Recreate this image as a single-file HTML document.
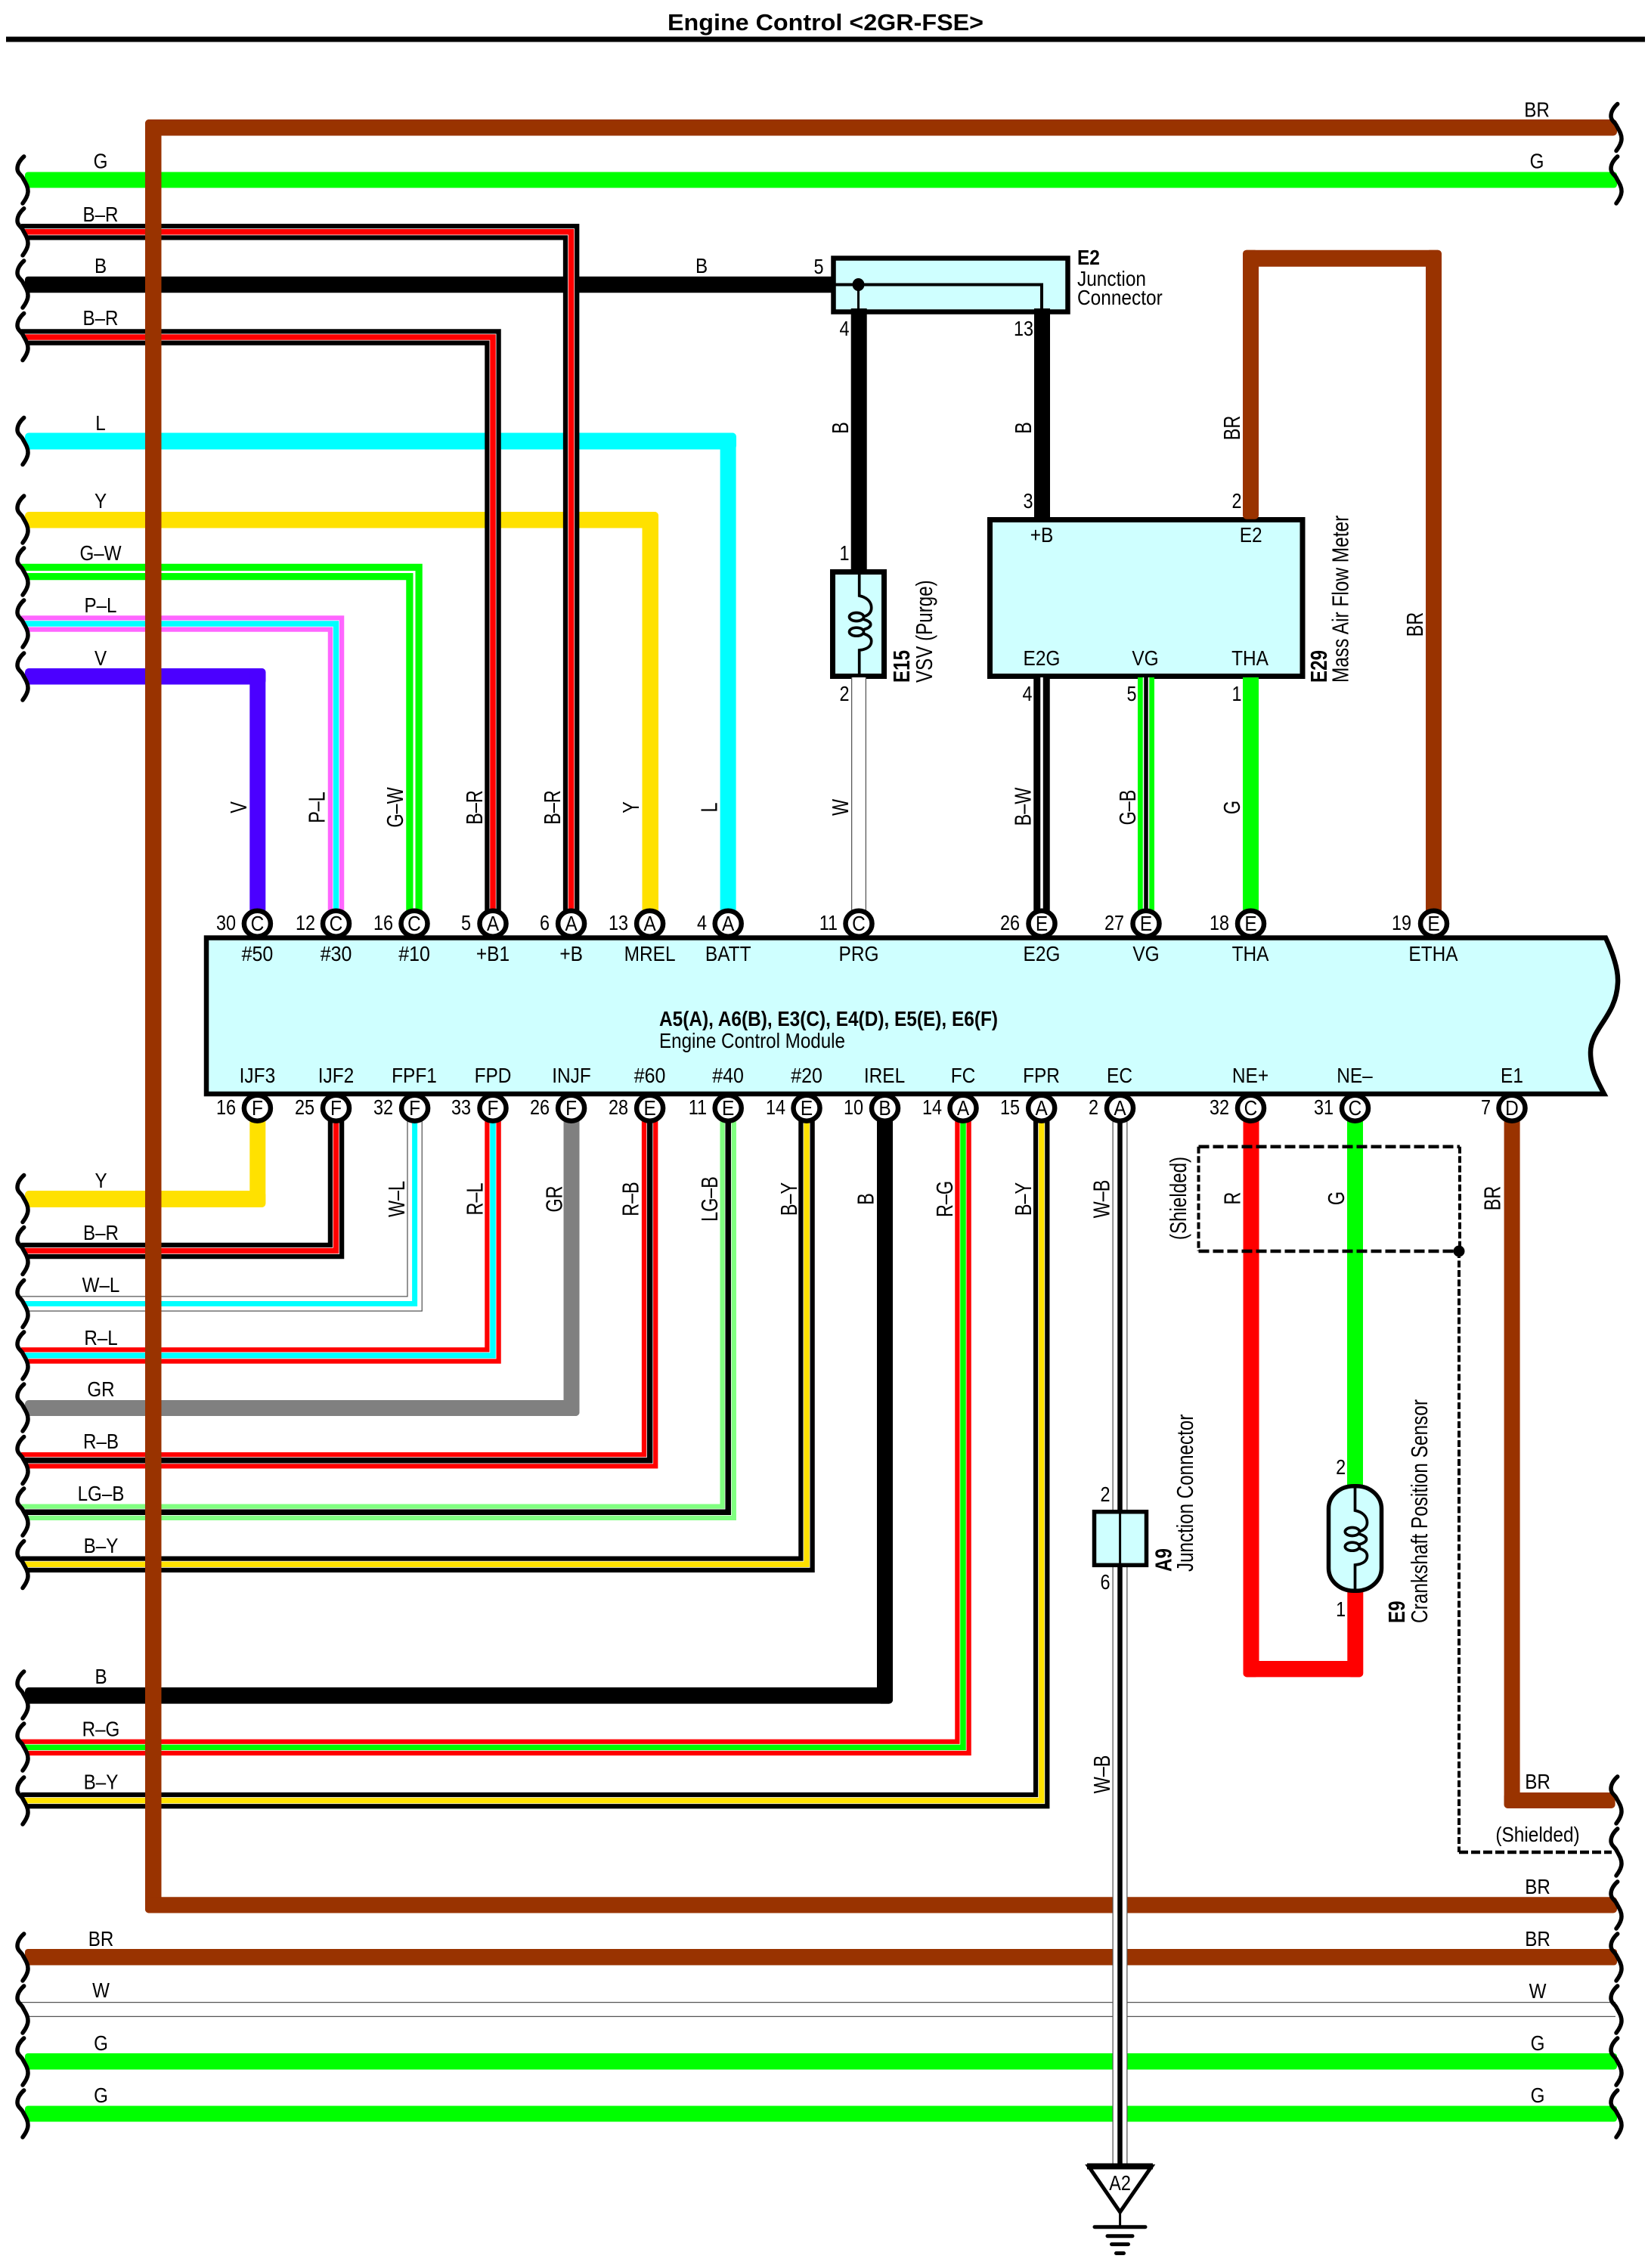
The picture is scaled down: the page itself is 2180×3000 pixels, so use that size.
<!DOCTYPE html>
<html><head><meta charset="utf-8"><title>Engine Control 2GR-FSE</title>
<style>
html,body{margin:0;padding:0;background:#fff}
svg{display:block}
text{font-family:"Liberation Sans",Arial,sans-serif;font-size:26px;fill:#000;stroke:none}
.m{text-anchor:middle}.e{text-anchor:end}.b{font-weight:bold}
.o{stroke-width:21.5}.i{stroke-width:9}.c{stroke-width:7.5}
.K{stroke:#000}.W{stroke:#fff}.R{stroke:#f00}.G{stroke:#0f0}.C{stroke:#0ff}.P{stroke:#f6f}.Y{stroke:#ffe100}.L{stroke:#80ff80}.A{stroke:#555}
.bx{fill:#cfffff;stroke:#000}
.sq{stroke:#000;stroke-width:5.5;stroke-linecap:round}
.d{stroke:#000;fill:none}
</style></head><body>
<svg xmlns="http://www.w3.org/2000/svg" width="2180" height="3000" viewBox="0 0 2180 3000" fill="none">
<defs>
<path id="s" d="M1.7 -31C-3 -27 -7 -21 -7 -15C-7 -9 -2 -7 0 -3C3 3 7 8 7 15C7 21 3 27 0 31" class="sq"/>
<g id="S"><path d="M-16 -34H1.7V-31C-3 -27 -7 -21 -7 -15C-7 -9 -2 -7 0 -3C3 3 7 8 7 15C7 21 3 27 0 31V34H-16Z" fill="#fff"/><use href="#s"/></g>
<g id="coil" stroke="#000" stroke-width="3.7" fill="none">
<path d="M0 0V31C10 33 16 39 16 47C16 53 12 57 5 59M5 62C12 64 15 66 15 69C15 72 12 74 5 76M5 81C12 83 16 86 16 91C16 98 10 102 0 103V138"/>
<ellipse cx="-3.7" cy="59" rx="9.5" ry="5.5"/><ellipse cx="-3.7" cy="78.7" rx="9.5" ry="5.5"/>
</g>
<path id="a1" d="M28 306.8H755.6V1222"/>
<path id="a2" d="M28 446H652V1222"/>
<path id="a3" d="M28 756.5H548V1222"/>
<path id="a4" d="M28 825H444.5V1222"/>
<path id="a5" d="M1136 896V1222"/>
<path id="a6" d="M1378 896V1222"/>
<path id="a7" d="M1516 896V1222"/>
<path id="b1" d="M28 1654.5H444.5V1465"/>
<path id="b2" d="M28 1724.5H548.6V1465"/>
<path id="b3" d="M28 1793H652V1465"/>
<path id="b4" d="M28 1931.7H859.6V1465"/>
<path id="b5" d="M28 2000.3H963.2V1465"/>
<path id="b6" d="M28 2069.3H1067V1465"/>
<path id="b7" d="M28 2311.4H1274V1465"/>
<path id="b8" d="M28 2381.6H1377.7V1465"/>
<path id="b9" d="M1481.5 1465V2866"/>
<path id="w0" d="M28 2658H2137"/>
</defs>

<!-- title -->
<text class="b m" x="1092" y="40" style="font-size:31px" textLength="418" lengthAdjust="spacingAndGlyphs">Engine Control &lt;2GR-FSE&gt;</text>
<rect x="8" y="48.5" width="2168" height="7" fill="#000"/>

<!-- boxes under wires -->
<rect x="1102.5" y="341.5" width="310" height="71" class="bx" stroke-width="6.5"/>
<rect x="1101.5" y="756.5" width="68" height="138" class="bx" stroke-width="7"/>
<rect x="1309.5" y="687.5" width="413.5" height="207" class="bx" stroke-width="7"/>

<!-- left top solid wires -->
<g>
<rect x="33" y="227.5" width="2106" height="21" rx="4" fill="#0f0"/>
<rect x="33" y="365.7" width="1070" height="21.5" rx="4" fill="#000"/>
<rect x="33" y="572.5" width="941" height="22" rx="5" fill="#0ff"/><rect x="952.6" y="572.5" width="21" height="650" rx="5" fill="#0ff"/>
<rect x="33" y="677" width="838" height="21.5" rx="5" fill="#ffe100"/><rect x="849.5" y="677" width="21.5" height="545" rx="5" fill="#ffe100"/>
<rect x="33" y="884" width="318.5" height="21.5" rx="5" fill="#4b00ff"/><rect x="330.3" y="884" width="21" height="338" rx="5" fill="#4b00ff"/>
</g>
<!-- top striped wires -->
<use href="#a1" class="K o"/><use href="#a1" class="W i"/><use href="#a1" class="R c"/>
<use href="#a2" class="K o"/><use href="#a2" class="W i"/><use href="#a2" class="R c"/>
<use href="#a3" class="G o"/><use href="#a3" class="W" stroke-width="3"/>
<use href="#a4" class="P o"/><use href="#a4" class="W i"/><use href="#a4" class="C c"/>

<!-- E2 wires -->
<rect x="1125.7" y="408" width="21" height="348" fill="#000"/>
<rect x="1368" y="408" width="21" height="280" fill="#000"/>
<path d="M1100 376.5H1378V414" stroke="#000" stroke-width="4"/>
<path d="M1135.5 376V414" stroke="#000" stroke-width="3"/>
<ellipse cx="1135.5" cy="376.5" rx="8" ry="8.5" fill="#000"/>
<use href="#coil" x="1136.7" y="757"/>

<!-- BR loop, THA -->
<rect x="1644" y="330.7" width="263" height="22" rx="5" fill="#930"/>
<rect x="1644" y="330.7" width="21" height="356" rx="5" fill="#930"/>
<rect x="1886" y="330.7" width="21" height="892" rx="5" fill="#930"/>
<rect x="1644" y="896" width="21" height="326" fill="#0f0"/>
<use href="#a5" class="A" stroke-width="20"/><use href="#a5" class="W" stroke-width="17.5"/>
<use href="#a6" class="K o"/><use href="#a6" class="W" stroke-width="3.5"/>
<use href="#a7" class="G" stroke-width="22"/><use href="#a7" class="W" stroke-width="8.5"/><use href="#a7" class="K" stroke-width="5.5"/>

<!-- bottom wires -->
<rect x="330.3" y="1465" width="21" height="132" rx="5" fill="#ffe100"/><rect x="33" y="1575" width="318.3" height="22" rx="5" fill="#ffe100"/>
<use href="#b1" class="K o"/><use href="#b1" class="W i"/><use href="#b1" class="R c"/>
<use href="#b2" class="A" stroke-width="20.5"/><use href="#b2" class="W" stroke-width="18"/><use href="#b2" class="C" stroke-width="7"/>
<use href="#b3" class="R o"/><use href="#b3" class="W i"/><use href="#b3" class="C c"/>
<rect x="745.5" y="1465" width="21" height="408" rx="5" fill="#808080"/><rect x="33" y="1852" width="733.5" height="21" rx="5" fill="#808080"/>
<use href="#b4" class="R o"/><use href="#b4" class="W i"/><use href="#b4" class="K c"/>
<use href="#b5" class="L o"/><use href="#b5" class="W i"/><use href="#b5" class="K c"/>
<use href="#b6" class="K o"/><use href="#b6" class="W i"/><use href="#b6" class="Y c"/>
<rect x="1160" y="1465" width="21" height="788.6" rx="5" fill="#000"/><rect x="33" y="2232" width="1148" height="21.6" rx="5" fill="#000"/>
<use href="#b7" class="R o"/><use href="#b7" class="W i"/><use href="#b7" class="G c"/>
<use href="#b8" class="K o"/><use href="#b8" class="W i"/><use href="#b8" class="Y c"/>

<!-- main brown ground loop -->
<rect x="192" y="158" width="1947" height="21.5" rx="5" fill="#930"/>
<rect x="192" y="158" width="21.5" height="2372.5" rx="5" fill="#930"/>
<rect x="192" y="2509.3" width="1947" height="21.2" rx="5" fill="#930"/>
<!-- lower buses -->
<rect x="33" y="2578" width="2106" height="21.5" rx="4" fill="#930"/>
<use href="#w0" class="A" stroke-width="20"/><use href="#w0" class="W" stroke-width="17.5"/>
<rect x="33" y="2716" width="2106" height="21.5" rx="4" fill="#0f0"/>
<rect x="33" y="2785.5" width="2106" height="21" rx="4" fill="#0f0"/>

<!-- red/green/BR right -->
<rect x="1644.5" y="1465" width="21" height="753.4" rx="5" fill="#f00"/>
<rect x="1644.5" y="2197" width="158.5" height="21.4" rx="5" fill="#f00"/>
<rect x="1782.3" y="2100" width="21" height="118.4" rx="5" fill="#f00"/>
<rect x="1782" y="1465" width="21" height="502" fill="#0f0"/>
<rect x="1989.6" y="1465" width="21" height="927" rx="5" fill="#930"/>
<rect x="1989.6" y="2371" width="147" height="21" rx="5" fill="#930"/>

<!-- W-B wire -->
<use href="#b9" class="A" stroke-width="20"/><use href="#b9" class="W" stroke-width="17.5"/><use href="#b9" class="K" stroke-width="6.5"/>

<!-- A9 -->
<rect x="1447.5" y="1999.7" width="69" height="70.6" class="bx" stroke-width="5.5"/>
<path d="M1481.6 2000V2070" stroke="#000" stroke-width="3"/>
<!-- E9 -->
<rect x="1757.5" y="1965.7" width="70" height="138.5" rx="33" ry="30" class="bx" stroke-width="5.5"/>
<use href="#coil" x="1792.5" y="1967"/>
<!-- shield -->
<path class="d" stroke-width="4.5" stroke-dasharray="14 5" d="M1585.5 1516.7H1931M1585.5 1655H1931"/>
<path class="d" stroke-width="4" stroke-dasharray="9 3.5" d="M1585.5 1516.7V1655M1931 1516.7V1655M1930 1655V2450"/>
<path class="d" stroke-width="4.5" stroke-dasharray="12 4" d="M1930 2450H2132"/>
<ellipse cx="1930" cy="1655" rx="7.5" ry="7.5" fill="#000"/>

<!-- ground -->
<path d="M1440 2865.5H1523.5L1481.6 2926Z" fill="#fff" stroke="#000" stroke-width="5"/>
<path d="M1438 2865.5H1525" stroke="#000" stroke-width="8"/>
<path d="M1481.6 2928V2945" stroke="#000" stroke-width="3"/>
<g stroke="#000" stroke-width="5" stroke-linecap="round">
<path d="M1448 2945.7H1515M1465 2957.7H1498M1470.5 2968.6H1492.5M1476.5 2980.5H1486.5"/>
</g>

<!-- squiggles left -->
<g>
<use href="#S" x="30" y="238"/><use href="#S" x="30" y="306.8"/><use href="#S" x="30" y="376"/><use href="#S" x="30" y="445.5"/>
<use href="#S" x="30" y="583.5"/><use href="#S" x="30" y="687"/><use href="#S" x="30" y="756"/><use href="#S" x="30" y="825"/><use href="#S" x="30" y="895"/>
<use href="#S" x="30" y="1585.5"/><use href="#S" x="30" y="1654.5"/><use href="#S" x="30" y="1724.5"/><use href="#S" x="30" y="1793"/><use href="#S" x="30" y="1862"/><use href="#S" x="30" y="1931.5"/><use href="#S" x="30" y="2000"/><use href="#S" x="30" y="2069.5"/>
<use href="#S" x="30" y="2242"/><use href="#S" x="30" y="2311"/><use href="#S" x="30" y="2382"/>
<use href="#S" x="30" y="2589"/><use href="#S" x="30" y="2658"/><use href="#S" x="30" y="2727"/><use href="#S" x="30" y="2796"/>
<use href="#s" x="2138" y="168.5"/><use href="#s" x="2138" y="238"/><use href="#s" x="2138" y="2381"/><use href="#s" x="2138" y="2450"/><use href="#s" x="2138" y="2520"/><use href="#s" x="2138" y="2589"/><use href="#s" x="2138" y="2658"/><use href="#s" x="2138" y="2727"/><use href="#s" x="2138" y="2796"/>
</g>

<!-- ECM -->
<path d="M273 1240.5H2124C2134 1262 2141 1284 2140 1300C2138 1345 2104 1360 2104 1392C2104 1415 2113 1430 2122 1447H273Z" class="bx" stroke-width="6.5"/>

<!-- pins -->
<g fill="#fff" stroke="#000" stroke-width="6.5">
<ellipse cx="340.4" cy="1221.7" rx="17.5" ry="17"/><ellipse cx="444.5" cy="1221.7" rx="17.5" ry="17"/><ellipse cx="548" cy="1221.7" rx="17.5" ry="17"/><ellipse cx="652" cy="1221.7" rx="17.5" ry="17"/><ellipse cx="755.6" cy="1221.7" rx="17.5" ry="17"/><ellipse cx="859.6" cy="1221.7" rx="17.5" ry="17"/><ellipse cx="963.2" cy="1221.7" rx="17.5" ry="17"/><ellipse cx="1136" cy="1221.7" rx="17.5" ry="17"/><ellipse cx="1378" cy="1221.7" rx="17.5" ry="17"/><ellipse cx="1516" cy="1221.7" rx="17.5" ry="17"/><ellipse cx="1654.5" cy="1221.7" rx="17.5" ry="17"/><ellipse cx="1896.5" cy="1221.7" rx="17.5" ry="17"/>
<ellipse cx="340.4" cy="1465.7" rx="17.5" ry="17"/><ellipse cx="444.5" cy="1465.7" rx="17.5" ry="17"/><ellipse cx="548.6" cy="1465.7" rx="17.5" ry="17"/><ellipse cx="652" cy="1465.7" rx="17.5" ry="17"/><ellipse cx="755.6" cy="1465.7" rx="17.5" ry="17"/><ellipse cx="859.6" cy="1465.7" rx="17.5" ry="17"/><ellipse cx="963.2" cy="1465.7" rx="17.5" ry="17"/><ellipse cx="1067" cy="1465.7" rx="17.5" ry="17"/><ellipse cx="1170.5" cy="1465.7" rx="17.5" ry="17"/><ellipse cx="1274" cy="1465.7" rx="17.5" ry="17"/><ellipse cx="1377.7" cy="1465.7" rx="17.5" ry="17"/><ellipse cx="1481.5" cy="1465.7" rx="17.5" ry="17"/><ellipse cx="1654.5" cy="1465.7" rx="17.5" ry="17"/><ellipse cx="1792.5" cy="1465.7" rx="17.5" ry="17"/><ellipse cx="2000" cy="1465.7" rx="17.5" ry="17"/>
</g>

<!-- pin letters -->
<g class="m">
<text class="m" transform="matrix(.94 0 0 1.08 340.4 1231)">C</text><text class="m" transform="matrix(.94 0 0 1.08 444.5 1231)">C</text><text class="m" transform="matrix(.94 0 0 1.08 548 1231)">C</text><text class="m" transform="matrix(.94 0 0 1.08 652 1231)">A</text><text class="m" transform="matrix(.94 0 0 1.08 755.6 1231)">A</text><text class="m" transform="matrix(.94 0 0 1.08 859.6 1231)">A</text><text class="m" transform="matrix(.94 0 0 1.08 963.2 1231)">A</text><text class="m" transform="matrix(.94 0 0 1.08 1136 1231)">C</text><text class="m" transform="matrix(.94 0 0 1.08 1378 1231)">E</text><text class="m" transform="matrix(.94 0 0 1.08 1516 1231)">E</text><text class="m" transform="matrix(.94 0 0 1.08 1654.5 1231)">E</text><text class="m" transform="matrix(.94 0 0 1.08 1896.5 1231)">E</text>
<text class="m" transform="matrix(.94 0 0 1.08 340.4 1475)">F</text><text class="m" transform="matrix(.94 0 0 1.08 444.5 1475)">F</text><text class="m" transform="matrix(.94 0 0 1.08 548.6 1475)">F</text><text class="m" transform="matrix(.94 0 0 1.08 652 1475)">F</text><text class="m" transform="matrix(.94 0 0 1.08 755.6 1475)">F</text><text class="m" transform="matrix(.94 0 0 1.08 859.6 1475)">E</text><text class="m" transform="matrix(.94 0 0 1.08 963.2 1475)">E</text><text class="m" transform="matrix(.94 0 0 1.08 1067 1475)">E</text><text class="m" transform="matrix(.94 0 0 1.08 1170.5 1475)">B</text><text class="m" transform="matrix(.94 0 0 1.08 1274 1475)">A</text><text class="m" transform="matrix(.94 0 0 1.08 1377.7 1475)">A</text><text class="m" transform="matrix(.94 0 0 1.08 1481.5 1475)">A</text><text class="m" transform="matrix(.94 0 0 1.08 1654.5 1475)">C</text><text class="m" transform="matrix(.94 0 0 1.08 1792.5 1475)">C</text><text class="m" transform="matrix(.94 0 0 1.08 2000 1475)">D</text>
</g>

<!-- pin numbers -->
<g>
<text class="e" transform="matrix(.9 0 0 1.08 312 1230)">30</text><text class="e" transform="matrix(.9 0 0 1.08 417 1230)">12</text><text class="e" transform="matrix(.9 0 0 1.08 520 1230)">16</text><text class="e" transform="matrix(.9 0 0 1.08 623 1230)">5</text><text class="e" transform="matrix(.9 0 0 1.08 727 1230)">6</text><text class="e" transform="matrix(.9 0 0 1.08 831 1230)">13</text><text class="e" transform="matrix(.9 0 0 1.08 935 1230)">4</text><text class="e" transform="matrix(.9 0 0 1.08 1108 1230)">11</text><text class="e" transform="matrix(.9 0 0 1.08 1349 1230)">26</text><text class="e" transform="matrix(.9 0 0 1.08 1487 1230)">27</text><text class="e" transform="matrix(.9 0 0 1.08 1626 1230)">18</text><text class="e" transform="matrix(.9 0 0 1.08 1867 1230)">19</text>
<text class="e" transform="matrix(.9 0 0 1.08 312 1474)">16</text><text class="e" transform="matrix(.9 0 0 1.08 416 1474)">25</text><text class="e" transform="matrix(.9 0 0 1.08 520 1474)">32</text><text class="e" transform="matrix(.9 0 0 1.08 623 1474)">33</text><text class="e" transform="matrix(.9 0 0 1.08 727 1474)">26</text><text class="e" transform="matrix(.9 0 0 1.08 831 1474)">28</text><text class="e" transform="matrix(.9 0 0 1.08 935 1474)">11</text><text class="e" transform="matrix(.9 0 0 1.08 1039 1474)">14</text><text class="e" transform="matrix(.9 0 0 1.08 1142 1474)">10</text><text class="e" transform="matrix(.9 0 0 1.08 1246 1474)">14</text><text class="e" transform="matrix(.9 0 0 1.08 1349 1474)">15</text><text class="e" transform="matrix(.9 0 0 1.08 1453 1474)">2</text><text class="e" transform="matrix(.9 0 0 1.08 1626 1474)">32</text><text class="e" transform="matrix(.9 0 0 1.08 1764 1474)">31</text><text class="e" transform="matrix(.9 0 0 1.08 1972 1474)">7</text>
<text class="m" transform="matrix(.9 0 0 1.08 1083 362)">5</text><text class="m" transform="matrix(.9 0 0 1.08 1117 444)">4</text><text class="m" transform="matrix(.9 0 0 1.08 1354 444)">13</text>
<text class="m" transform="matrix(.9 0 0 1.08 1360 672)">3</text><text class="m" transform="matrix(.9 0 0 1.08 1636 672)">2</text><text class="m" transform="matrix(.9 0 0 1.08 1117 741)">1</text><text class="m" transform="matrix(.9 0 0 1.08 1117 927)">2</text><text class="m" transform="matrix(.9 0 0 1.08 1359 927)">4</text><text class="m" transform="matrix(.9 0 0 1.08 1497 927)">5</text><text class="m" transform="matrix(.9 0 0 1.08 1636 927)">1</text>
<text class="m" transform="matrix(.9 0 0 1.08 1462 1986)">2</text><text class="m" transform="matrix(.9 0 0 1.08 1462 2102)">6</text><text class="m" transform="matrix(.9 0 0 1.08 1773.6 1950)">2</text><text class="m" transform="matrix(.9 0 0 1.08 1773.6 2138)">1</text>
</g>

<!-- ECM labels -->
<g>
<text class="m" transform="matrix(.96 0 0 1.08 340.4 1271)">#50</text><text class="m" transform="matrix(.96 0 0 1.08 444.5 1271)">#30</text><text class="m" transform="matrix(.96 0 0 1.08 548 1271)">#10</text><text class="m" transform="matrix(.94 0 0 1.08 652 1271)">+B1</text><text class="m" transform="matrix(.94 0 0 1.08 755.6 1271)">+B</text><text class="m" transform="matrix(.94 0 0 1.08 859.6 1271)">MREL</text><text class="m" transform="matrix(.94 0 0 1.08 963.2 1271)">BATT</text><text class="m" transform="matrix(.94 0 0 1.08 1136 1271)">PRG</text><text class="m" transform="matrix(.94 0 0 1.08 1378 1271)">E2G</text><text class="m" transform="matrix(.94 0 0 1.08 1516 1271)">VG</text><text class="m" transform="matrix(.94 0 0 1.08 1654 1271)">THA</text><text class="m" transform="matrix(.94 0 0 1.08 1896 1271)">ETHA</text>
<text class="m" transform="matrix(.94 0 0 1.08 340.4 1432)">IJF3</text><text class="m" transform="matrix(.94 0 0 1.08 444.5 1432)">IJF2</text><text class="m" transform="matrix(.94 0 0 1.08 548 1432)">FPF1</text><text class="m" transform="matrix(.94 0 0 1.08 652 1432)">FPD</text><text class="m" transform="matrix(.94 0 0 1.08 756 1432)">INJF</text><text class="m" transform="matrix(.96 0 0 1.08 859.6 1432)">#60</text><text class="m" transform="matrix(.96 0 0 1.08 963 1432)">#40</text><text class="m" transform="matrix(.96 0 0 1.08 1067 1432)">#20</text><text class="m" transform="matrix(.94 0 0 1.08 1170 1432)">IREL</text><text class="m" transform="matrix(.94 0 0 1.08 1274 1432)">FC</text><text class="m" transform="matrix(.94 0 0 1.08 1377.5 1432)">FPR</text><text class="m" transform="matrix(.94 0 0 1.08 1481 1432)">EC</text><text class="m" transform="matrix(.94 0 0 1.08 1654 1432)">NE+</text><text class="m" transform="matrix(.94 0 0 1.08 1792 1432)">NE–</text><text class="m" transform="matrix(.94 0 0 1.08 2000 1432)">E1</text>
<text class="b" x="872" y="1357" style="font-size:28px" textLength="448" lengthAdjust="spacingAndGlyphs">A5(A), A6(B), E3(C), E4(D), E5(E), E6(F)</text>
<text x="872" y="1386" style="font-size:28px" textLength="246" lengthAdjust="spacingAndGlyphs">Engine Control Module</text>
</g>

<!-- box labels -->
<g>
<text class="m" transform="matrix(.94 0 0 1.08 1378 717)">+B</text><text class="m" transform="matrix(.94 0 0 1.08 1654.7 717)">E2</text><text class="m" transform="matrix(.94 0 0 1.08 1378 880)">E2G</text><text class="m" transform="matrix(.94 0 0 1.08 1515 880)">VG</text><text class="m" transform="matrix(.94 0 0 1.08 1653.5 880)">THA</text>
<text class="b" transform="matrix(.94 0 0 1.08 1425 350)">E2</text>
<text transform="matrix(.94 0 0 1.08 1425 378)">Junction</text>
<text transform="matrix(.94 0 0 1.08 1425 403)">Connector</text>
<text class="m" transform="matrix(.9 0 0 1.08 1481.6 2897)">A2</text>
<text class="m" transform="matrix(.94 0 0 1.08 2034 2436)">(Shielded)</text>
</g>

<!-- wire labels horizontal -->
<g>
<text class="m" transform="matrix(.93 0 0 1.08 133 222.5)">G</text><text class="m" transform="matrix(.93 0 0 1.08 133 293)">B–R</text><text class="m" transform="matrix(.93 0 0 1.08 133 361)">B</text><text class="m" transform="matrix(.93 0 0 1.08 928 361)">B</text><text class="m" transform="matrix(.93 0 0 1.08 133 430)">B–R</text><text class="m" transform="matrix(.93 0 0 1.08 133 569)">L</text><text class="m" transform="matrix(.93 0 0 1.08 133 672)">Y</text><text class="m" transform="matrix(.93 0 0 1.08 133 741)">G–W</text><text class="m" transform="matrix(.93 0 0 1.08 133 810)">P–L</text><text class="m" transform="matrix(.93 0 0 1.08 133 880)">V</text>
<text class="m" transform="matrix(.93 0 0 1.08 133.5 1571)">Y</text><text class="m" transform="matrix(.93 0 0 1.08 133.5 1640)">B–R</text><text class="m" transform="matrix(.93 0 0 1.08 133.5 1709)">W–L</text><text class="m" transform="matrix(.93 0 0 1.08 133.5 1779)">R–L</text><text class="m" transform="matrix(.93 0 0 1.08 133.5 1847)">GR</text><text class="m" transform="matrix(.93 0 0 1.08 133.5 1916)">R–B</text><text class="m" transform="matrix(.93 0 0 1.08 133.5 1985)">LG–B</text><text class="m" transform="matrix(.93 0 0 1.08 133.5 2054)">B–Y</text><text class="m" transform="matrix(.93 0 0 1.08 133.5 2227)">B</text><text class="m" transform="matrix(.93 0 0 1.08 133.5 2296.5)">R–G</text><text class="m" transform="matrix(.93 0 0 1.08 133.5 2366.5)">B–Y</text><text class="m" transform="matrix(.93 0 0 1.08 133.5 2574)">BR</text><text class="m" transform="matrix(.93 0 0 1.08 133.5 2642)">W</text><text class="m" transform="matrix(.93 0 0 1.08 133.5 2712)">G</text><text class="m" transform="matrix(.93 0 0 1.08 133.5 2781)">G</text>
<text class="m" transform="matrix(.93 0 0 1.08 2033 154.5)">BR</text><text class="m" transform="matrix(.93 0 0 1.08 2033 222.5)">G</text><text class="m" transform="matrix(.93 0 0 1.08 2034 2366)">BR</text><text class="m" transform="matrix(.93 0 0 1.08 2034 2505)">BR</text><text class="m" transform="matrix(.93 0 0 1.08 2034 2574)">BR</text><text class="m" transform="matrix(.93 0 0 1.08 2034 2643)">W</text><text class="m" transform="matrix(.93 0 0 1.08 2034 2712)">G</text><text class="m" transform="matrix(.93 0 0 1.08 2034 2781)">G</text>
</g>

<!-- rotated labels -->
<g>
<text class="m" transform="matrix(0 -.9 1.17 0 326 1068)">V</text><text class="m" transform="matrix(0 -.9 1.17 0 429.5 1068)">P–L</text><text class="m" transform="matrix(0 -.9 1.17 0 533 1068)">G–W</text><text class="m" transform="matrix(0 -.9 1.17 0 638 1068)">B–R</text><text class="m" transform="matrix(0 -.9 1.17 0 741 1068)">B–R</text><text class="m" transform="matrix(0 -.9 1.17 0 845 1068)">Y</text><text class="m" transform="matrix(0 -.9 1.17 0 948.6 1068)">L</text><text class="m" transform="matrix(0 -.9 1.17 0 1122 1068)">W</text><text class="m" transform="matrix(0 -.9 1.17 0 1363.5 1067)">B–W</text><text class="m" transform="matrix(0 -.9 1.17 0 1502 1068)">G–B</text><text class="m" transform="matrix(0 -.9 1.17 0 1640 1068)">G</text><text class="m" transform="matrix(0 -.9 1.17 0 1882 826)">BR</text>
<text class="m" transform="matrix(0 -.9 1.17 0 1122 566)">B</text><text class="m" transform="matrix(0 -.9 1.17 0 1364 566)">B</text><text class="m" transform="matrix(0 -.9 1.17 0 1640 566)">BR</text>
<text class="m" transform="matrix(0 -.9 1.17 0 535 1586)">W–L</text><text class="m" transform="matrix(0 -.9 1.17 0 638.4 1586)">R–L</text><text class="m" transform="matrix(0 -.9 1.17 0 743.7 1586)">GR</text><text class="m" transform="matrix(0 -.9 1.17 0 844.5 1586)">R–B</text><text class="m" transform="matrix(0 -.9 1.17 0 949 1586)">LG–B</text><text class="m" transform="matrix(0 -.9 1.17 0 1054 1586)">B–Y</text><text class="m" transform="matrix(0 -.9 1.17 0 1155.5 1586)">B</text><text class="m" transform="matrix(0 -.9 1.17 0 1260 1586)">R–G</text><text class="m" transform="matrix(0 -.9 1.17 0 1364 1586)">B–Y</text><text class="m" transform="matrix(0 -.9 1.17 0 1467.5 1586)">W–B</text><text class="m" transform="matrix(0 -.93 1.17 0 1569 1585)">(Shielded)</text><text class="m" transform="matrix(0 -.9 1.17 0 1640.5 1585)">R</text><text class="m" transform="matrix(0 -.9 1.17 0 1778 1585)">G</text><text class="m" transform="matrix(0 -.9 1.17 0 1984.5 1585)">BR</text>
<text class="m" transform="matrix(0 -.9 1.17 0 1468 2347)">W–B</text>
<text class="b" transform="matrix(0 -.93 1.17 0 1203 903)">E15</text><text transform="matrix(0 -.93 1.17 0 1233 903)">VSV (Purge)</text>
<text class="b" transform="matrix(0 -.93 1.17 0 1755 903)">E29</text><text transform="matrix(0 -.94 1.17 0 1783.5 903)">Mass Air Flow Meter</text>
<text class="b" transform="matrix(0 -.93 1.17 0 1549.4 2079)">A9</text><text transform="matrix(0 -.93 1.17 0 1578 2079)">Junction Connector</text>
<text class="b" transform="matrix(0 -.93 1.17 0 1858 2147)">E9</text><text transform="matrix(0 -.94 1.17 0 1888 2147)">Crankshaft Position Sensor</text>
</g>
</svg>
</body></html>
